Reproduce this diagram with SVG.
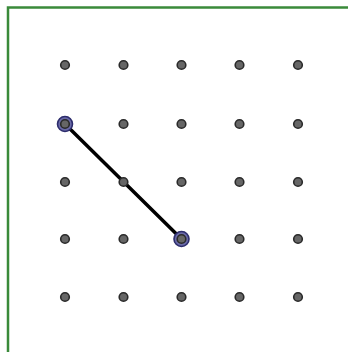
<svg xmlns="http://www.w3.org/2000/svg" width="348" height="352" viewBox="0 0 348 352">
<style>
.dot{fill:#666;stroke:#2a2a2a;stroke-width:1.6}
.end{fill:#6a6aa8;stroke:#2c2c6c;stroke-width:1.6}
.seg{stroke:#000;stroke-width:3.5;stroke-linecap:round}
</style>
<rect x="0" y="0" width="348" height="352" fill="#fff"/>
<rect x="8" y="7.5" width="360" height="370" fill="none" stroke="#3a8a3a" stroke-width="2.5"/>
<g id="connectors">
<line class="seg" x1="65" y1="124" x2="181.5" y2="239"/>
</g>
<g id="endpoints">
<circle id="endA" class="end" cx="65" cy="124" r="7.5"/>
<circle id="endB" class="end" cx="181.5" cy="239" r="7.5"/>
</g>
<g id="grid">
<circle class="dot" cx="65" cy="65" r="4.3"/><circle class="dot" cx="123.5" cy="65" r="4.3"/><circle class="dot" cx="181.5" cy="65" r="4.3"/><circle class="dot" cx="239.5" cy="65" r="4.3"/><circle class="dot" cx="298" cy="65" r="4.3"/>
<circle class="dot" cx="65" cy="124" r="4.3"/><circle class="dot" cx="123.5" cy="124" r="4.3"/><circle class="dot" cx="181.5" cy="124" r="4.3"/><circle class="dot" cx="239.5" cy="124" r="4.3"/><circle class="dot" cx="298" cy="124" r="4.3"/>
<circle class="dot" cx="65" cy="182" r="4.3"/><circle class="dot" cx="123.5" cy="182" r="4.3"/><circle class="dot" cx="181.5" cy="182" r="4.3"/><circle class="dot" cx="239.5" cy="182" r="4.3"/><circle class="dot" cx="298" cy="182" r="4.3"/>
<circle class="dot" cx="65" cy="239" r="4.3"/><circle class="dot" cx="123.5" cy="239" r="4.3"/><circle class="dot" cx="181.5" cy="239" r="4.3"/><circle class="dot" cx="239.5" cy="239" r="4.3"/><circle class="dot" cx="298" cy="239" r="4.3"/>
<circle class="dot" cx="65" cy="297" r="4.3"/><circle class="dot" cx="123.5" cy="297" r="4.3"/><circle class="dot" cx="181.5" cy="297" r="4.3"/><circle class="dot" cx="239.5" cy="297" r="4.3"/><circle class="dot" cx="298" cy="297" r="4.3"/>
</g>
</svg>
